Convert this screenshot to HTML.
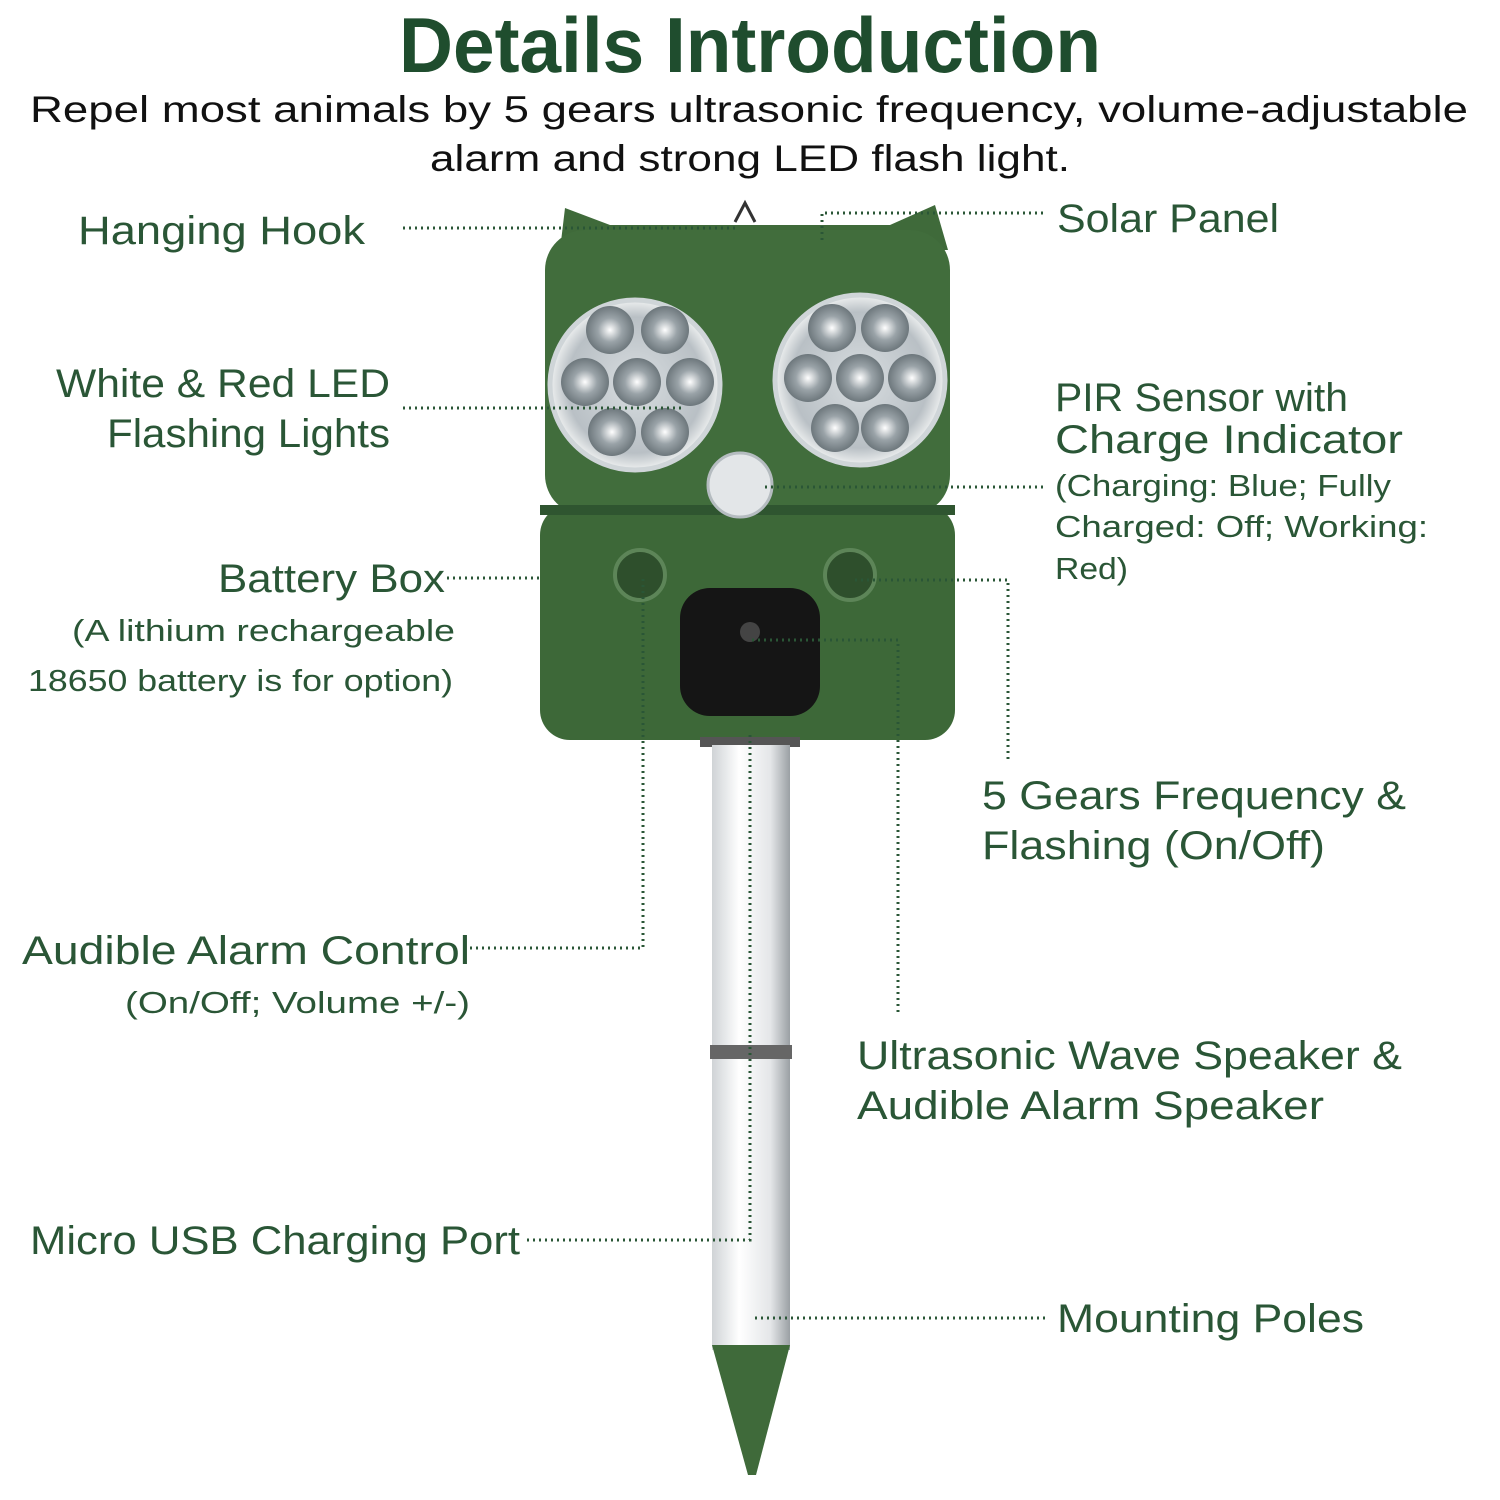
<!DOCTYPE html>
<html><head><meta charset="utf-8"><style>
html,body{margin:0;padding:0;background:#fff;}
svg{display:block}
text{font-family:"Liberation Sans",sans-serif;}
.l{fill:#2a5636;font-size:40px}
.s{fill:#2a5636;font-size:31px}
.d{stroke:#2a5636;stroke-width:3;stroke-dasharray:2 4;fill:none}
</style></head><body>
<svg width="1500" height="1500" viewBox="0 0 1500 1500">
<defs>
<linearGradient id="pole" x1="0" x2="1"><stop offset="0" stop-color="#cfd3d6"/><stop offset="0.35" stop-color="#ffffff"/><stop offset="0.75" stop-color="#e4e6e8"/><stop offset="1" stop-color="#9aa0a4"/></linearGradient>
<radialGradient id="eye" cx="0.5" cy="0.5" r="0.5"><stop offset="0" stop-color="#d8dde0"/><stop offset="0.8" stop-color="#b9c0c5"/><stop offset="1" stop-color="#eef0f0"/></radialGradient>
<radialGradient id="led" cx="0.5" cy="0.5" r="0.5"><stop offset="0" stop-color="#ffffff"/><stop offset="0.5" stop-color="#9aa3a8"/><stop offset="1" stop-color="#6d777c"/></radialGradient>
</defs>
<text x="750" y="72" text-anchor="middle" font-size="78" font-weight="bold" fill="#1f4d2e" textLength="702" lengthAdjust="spacingAndGlyphs">Details Introduction</text>
<text x="30" y="122" font-size="37" fill="#111" textLength="1438" lengthAdjust="spacingAndGlyphs">Repel most animals by 5 gears ultrasonic frequency, volume-adjustable</text>
<text x="430" y="171" font-size="37" fill="#111" textLength="640" lengthAdjust="spacingAndGlyphs">alarm and strong LED flash light.</text>

<!-- device -->
<path d="M560 250 L565 208 L610 225 L890 225 L935 205 L948 250 Z" fill="#3f6a3a"/>
<rect x="545" y="230" width="405" height="285" rx="40" fill="#416d3c"/>
<rect x="540" y="505" width="415" height="235" rx="30" fill="#3d6838"/>
<rect x="540" y="505" width="415" height="10" fill="#2f5530"/>
<path d="M735 222 L745 203 L755 222" stroke="#333" stroke-width="3" fill="none"/>
<circle cx="635" cy="385" r="85" fill="url(#eye)" stroke="#cfd5d8" stroke-width="5"/>
<circle cx="860" cy="380" r="85" fill="url(#eye)" stroke="#cfd5d8" stroke-width="5"/>
<g fill="url(#led)">
<circle cx="610" cy="330" r="24"/><circle cx="665" cy="330" r="24"/><circle cx="585" cy="382" r="24"/><circle cx="637" cy="382" r="24"/><circle cx="690" cy="382" r="24"/><circle cx="612" cy="432" r="24"/><circle cx="665" cy="432" r="24"/>
<circle cx="832" cy="328" r="24"/><circle cx="885" cy="328" r="24"/><circle cx="808" cy="378" r="24"/><circle cx="860" cy="378" r="24"/><circle cx="912" cy="378" r="24"/><circle cx="835" cy="428" r="24"/><circle cx="885" cy="428" r="24"/>
</g>
<circle cx="740" cy="485" r="32" fill="#e3e6e8" stroke="#b5bcc0" stroke-width="3"/>
<circle cx="640" cy="575" r="25" fill="#2e4f2c" stroke="#5d8558" stroke-width="4"/>
<circle cx="850" cy="575" r="25" fill="#2e4f2c" stroke="#5d8558" stroke-width="4"/>
<rect x="680" y="588" width="140" height="128" rx="30" fill="#151515"/>
<circle cx="750" cy="632" r="10" fill="#444"/>
<rect x="700" y="737" width="100" height="10" fill="#555"/>
<rect x="712" y="745" width="78" height="605" fill="url(#pole)"/>
<rect x="710" y="1045" width="82" height="14" fill="#666"/>
<path d="M712 1345 L790 1345 L756 1475 L748 1475 Z" fill="#3f6a3a"/>

<!-- connectors -->
<path class="d" d="M403 228 H738"/>
<path class="d" d="M822 240 V213 H1045"/>
<path class="d" d="M403 408 H682"/>
<path class="d" d="M765 487 H1045"/>
<path class="d" d="M447 578 H540"/>
<path class="d" d="M470 948 H643 V578"/>
<path class="d" d="M855 580 H1008 V762"/>
<path class="d" d="M752 640 H898 V1015"/>
<path class="d" d="M527 1240 H750 V735"/>
<path class="d" d="M755 1318 H1045"/>

<!-- labels -->
<text class="l" x="78" y="244" textLength="287" lengthAdjust="spacingAndGlyphs">Hanging Hook</text>
<text class="l" x="56" y="397" textLength="334" lengthAdjust="spacingAndGlyphs">White &amp; Red LED</text>
<text class="l" x="107" y="447" textLength="283" lengthAdjust="spacingAndGlyphs">Flashing Lights</text>
<text class="l" x="218" y="592" textLength="227" lengthAdjust="spacingAndGlyphs">Battery Box</text>
<text class="s" x="72" y="641" textLength="383" lengthAdjust="spacingAndGlyphs">(A lithium rechargeable</text>
<text class="s" x="28" y="691" textLength="425" lengthAdjust="spacingAndGlyphs">18650 battery is for option)</text>
<text class="l" x="22" y="964" textLength="448" lengthAdjust="spacingAndGlyphs">Audible Alarm Control</text>
<text class="s" x="125" y="1013" textLength="345" lengthAdjust="spacingAndGlyphs">(On/Off;  Volume +/-)</text>
<text class="l" x="30" y="1254" textLength="490" lengthAdjust="spacingAndGlyphs">Micro USB Charging Port</text>
<text class="l" x="1057" y="232" textLength="222" lengthAdjust="spacingAndGlyphs">Solar Panel</text>
<text class="l" x="1055" y="411" textLength="293" lengthAdjust="spacingAndGlyphs">PIR Sensor with</text>
<text class="l" x="1055" y="453" textLength="348" lengthAdjust="spacingAndGlyphs">Charge Indicator</text>
<text class="s" x="1055" y="496" textLength="336" lengthAdjust="spacingAndGlyphs">(Charging: Blue; Fully</text>
<text class="s" x="1055" y="537" textLength="373" lengthAdjust="spacingAndGlyphs">Charged: Off; Working:</text>
<text class="s" x="1055" y="579" textLength="73" lengthAdjust="spacingAndGlyphs">Red)</text>
<text class="l" x="982" y="809" textLength="424" lengthAdjust="spacingAndGlyphs">5 Gears Frequency &amp;</text>
<text class="l" x="982" y="859" textLength="343" lengthAdjust="spacingAndGlyphs">Flashing (On/Off)</text>
<text class="l" x="857" y="1069" textLength="545" lengthAdjust="spacingAndGlyphs">Ultrasonic Wave Speaker &amp;</text>
<text class="l" x="857" y="1119" textLength="467" lengthAdjust="spacingAndGlyphs">Audible Alarm Speaker</text>
<text class="l" x="1057" y="1332" textLength="307" lengthAdjust="spacingAndGlyphs">Mounting Poles</text>
</svg>
</body></html>
